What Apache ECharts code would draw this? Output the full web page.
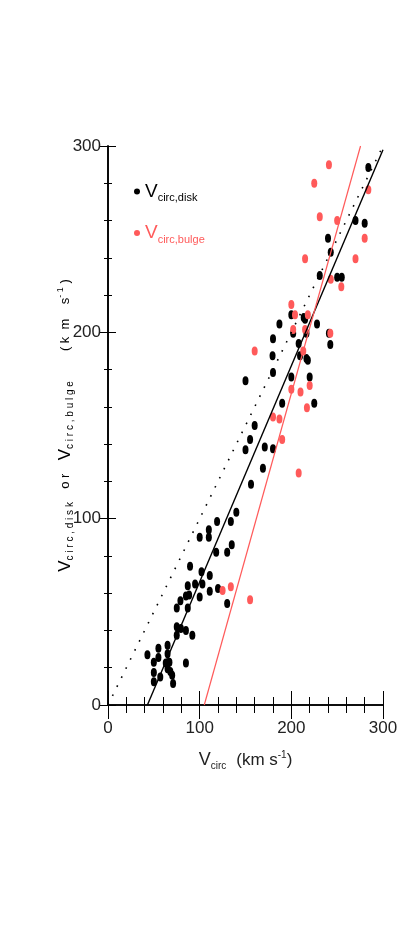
<!DOCTYPE html>
<html>
<head>
<meta charset="utf-8">
<script src="https://cdn.jsdelivr.net/npm/echarts@6/dist/echarts.min.js"></script>
<style>
  html, body { margin: 0; padding: 0; background: #fff; }
  #chart { width: 417px; height: 939px; }
</style>
</head>
<body>
<div id="chart"></div>
<script>
// V_circ vs V_circ,disk (black points)
const diskVcirc = [43, 50, 50, 50, 55, 55, 57, 65, 65, 63, 67, 65, 68, 70, 71, 85,
  75, 87, 75, 79.5, 85, 75, 92, 79, 85, 87, 88.5, 95, 100, 103, 89.5, 102, 111, 111,
  120, 130, 118, 130, 135, 100, 110, 110, 119, 134, 140, 156, 169, 150, 155, 160,
  171, 180, 190, 150, 180, 200, 220, 225, 179.5, 180, 209.5, 216.5, 218, 208, 202,
  216.5, 241, 242.5, 187, 228, 200, 213.5, 215, 231, 250, 255, 240, 243, 270, 280, 284]
const diskV = [27, 23, 17.5, 12.5, 30.5, 25.5, 15, 32, 27.5, 22.5, 23, 19.5, 18, 16, 11.5, 22.5,
  52, 52, 42, 41, 40, 37.5, 37.5, 56, 58.5, 64, 59, 65, 58, 65, 74.5, 71.5, 69.5, 61,
  62.5, 54.5, 82, 82, 86, 90, 94, 90, 98.5, 98.5, 103.5, 118.5, 127, 137, 142.5, 150,
  138.5, 137.5, 162, 174, 178.5, 176, 176, 162, 187.5, 196.5, 187.5, 186, 185, 194, 199.5,
  199.5, 199.5, 193.5, 204.5, 204.5, 209.5, 208, 207, 230.5, 229.5, 229.5, 250.5, 243, 260, 258.5, 288.5]

// V_circ vs V_circ,bulge (red points)
const bulgeVcirc = [125, 134, 155, 208, 180, 187, 190, 217, 200, 210, 220, 160, 213, 202,
  215, 242.5, 200, 204, 218, 254.5, 243, 215, 270, 280, 231, 250, 225, 284, 241]
const bulgeV = [61.5, 63.5, 56.5, 124.5, 154.5, 153.5, 142.5, 159.5, 169.5, 168, 171.5, 190, 190, 201.5,
  201.5, 199.5, 215, 209.5, 209.5, 224.5, 228.5, 239.5, 239.5, 250.5, 262, 260, 280, 276.5, 290]

// fitted lines and the one-to-one line (end points)
const diskFitX = [43, 300]
const diskFitY = [0, 298]
const bulgeFitX = [105, 275.5]
const bulgeFitY = [0, 300]
const oneToOneX = [0, 300]
const oneToOneY = [0, 300]

const BLACK = '#000000'
const RED = '#ff5a5a'
const tickFont = "'Liberation Sans', Arial, sans-serif"
const labelFont = "'Liberation Sans', 'DejaVu Sans', sans-serif"

const pairs = (xs, ys) => xs.map((x, i) => [x, ys[i]])

const chart = echarts.init(document.getElementById('chart'))

const baseX = {
  type: 'value',
  min: 0,
  max: 300,
  interval: 100,
  axisLine: { show: true, lineStyle: { color: BLACK, width: 1.6 } },
  axisTick: { show: true, inside: true, length: 14, lineStyle: { color: BLACK, width: 1 } },
  minorTick: { show: true, splitNumber: 5, length: 8, lineStyle: { color: BLACK, width: 1 } },
  splitLine: { show: false },
  minorSplitLine: { show: false }
}
const baseY = {
  type: 'value',
  min: 0,
  max: 300,
  interval: 100,
  axisLine: { show: true, lineStyle: { color: BLACK, width: 1.6 } },
  axisTick: { show: true, inside: true, length: 8, lineStyle: { color: BLACK, width: 1 } },
  minorTick: { show: true, splitNumber: 5, length: 4, lineStyle: { color: BLACK, width: 1 } },
  splitLine: { show: false },
  minorSplitLine: { show: false }
}

const option = {
  backgroundColor: '#ffffff',
  animation: false,
  grid: { left: 108, right: 34, top: 146, bottom: 234 },
  legend: {
    orient: 'vertical',
    left: 129,
    top: 177,
    itemGap: 20,
    itemWidth: 6,
    itemHeight: 9,
    icon: 'circle',
    data: ['disk', 'bulge'],
    formatter: name => name === 'disk' ? '{vd|V}{sd|circ,disk}' : '{vb|V}{sb|circ,bulge}',
    textStyle: {
      fontFamily: labelFont,
      rich: {
        vd: { fontSize: 19, color: BLACK, fontFamily: tickFont },
        sd: { fontSize: 11, color: BLACK, fontFamily: tickFont, padding: [13, 0, 0, 0] },
        vb: { fontSize: 19, color: RED, fontFamily: tickFont },
        sb: { fontSize: 11, color: RED, fontFamily: tickFont, padding: [13, 0, 0, 0] }
      }
    }
  },
  xAxis: [
    Object.assign({}, baseX, {
      position: 'bottom',
      axisLabel: { show: true, margin: 15, color: '#222', fontSize: 17, fontFamily: tickFont },
      name: '{v|V}{s|circ}   {t|(km s}{p|-1}{t|)}',
      nameLocation: 'middle',
      nameGap: 44,
      nameMoveOverlap: false,
      nameTextStyle: {
        rich: {
          v: { fontSize: 18, color: '#222', fontFamily: tickFont },
          s: { fontSize: 10, color: '#222', fontFamily: tickFont, padding: [12, 0, 0, 0] },
          t: { fontSize: 17, color: '#222', fontFamily: tickFont },
          p: { fontSize: 10, color: '#222', fontFamily: tickFont, padding: [0, 0, 10, 0] }
        }
      }
    }),
    Object.assign({}, baseX, { position: 'top', axisLabel: { show: false } })
  ],
  yAxis: [
    Object.assign({}, baseY, {
      position: 'left',
      axisLabel: { show: true, margin: 7, color: '#222', fontSize: 17, fontFamily: tickFont },
      name: '{v|V}{s|c i r c , d i s k}    {t|o r}    {v|V}{s|c i r c , b u l g e}         {t|( k  m    s}{p|- 1}{t| )}',
      nameLocation: 'middle',
      nameRotate: 90,
      nameGap: 33,
      nameMoveOverlap: false,
      nameTextStyle: {
        rich: {
          v: { fontSize: 17, color: BLACK, fontFamily: labelFont },
          s: { fontSize: 10, color: BLACK, fontFamily: labelFont, padding: [9, 0, 0, 0] },
          t: { fontSize: 13, color: BLACK, fontFamily: labelFont },
          p: { fontSize: 9, color: BLACK, fontFamily: labelFont, padding: [0, 0, 9, 0] }
        }
      }
    }),
    Object.assign({}, baseY, { position: 'right', axisLabel: { show: false } })
  ],
  series: [
    {
      name: 'one-to-one',
      type: 'line',
      data: pairs(oneToOneX, oneToOneY),
      symbol: 'none',
      silent: true,
      lineStyle: { color: BLACK, width: 1.6, type: [1.6, 8.5] }
    },
    {
      name: 'disk fit',
      type: 'line',
      data: pairs(diskFitX, diskFitY),
      symbol: 'none',
      silent: true,
      lineStyle: { color: BLACK, width: 1.4 }
    },
    {
      name: 'bulge fit',
      type: 'line',
      data: pairs(bulgeFitX, bulgeFitY),
      symbol: 'none',
      silent: true,
      lineStyle: { color: RED, width: 1.2 }
    },
    {
      name: 'disk',
      type: 'scatter',
      data: pairs(diskVcirc, diskV),
      symbol: 'circle',
      symbolSize: [6, 9],
      itemStyle: { color: BLACK, opacity: 1 }
    },
    {
      name: 'bulge',
      type: 'scatter',
      data: pairs(bulgeVcirc, bulgeV),
      symbol: 'circle',
      symbolSize: [6, 9],
      itemStyle: { color: RED, opacity: 1 }
    }
  ]
}

chart.setOption(option)
</script>
</body>
</html>
